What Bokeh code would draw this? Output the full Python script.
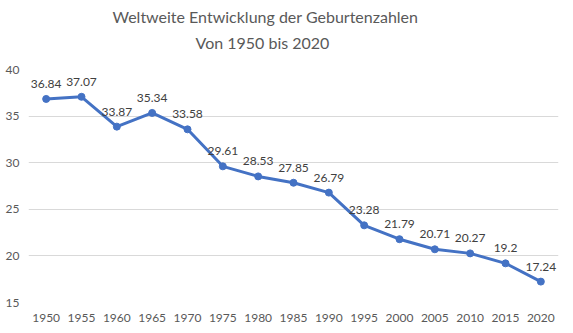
from bokeh.plotting import figure
from bokeh.models import ColumnDataSource, LabelSet, Title, FactorRange, Range1d, SingleIntervalTicker
from bokeh.core.properties import value
from bokeh.embed import file_html
from bokeh.resources import INLINE

years = ["1950", "1955", "1960", "1965", "1970", "1975", "1980", "1985",
         "1990", "1995", "2000", "2005", "2010", "2015", "2020"]
values = [36.84, 37.07, 33.87, 35.34, 33.58, 29.61, 28.53, 27.85,
          26.79, 23.28, 21.79, 20.71, 20.27, 19.2, 17.24]
labels = ["36.84", "37.07", "33.87", "35.34", "33.58", "29.61", "28.53", "27.85",
          "26.79", "23.28", "21.79", "20.71", "20.27", "19.2", "17.24"]
title1 = "Weltweite Entwicklung der Geburtenzahlen"
title2 = "Von 1950 bis 2020"

FONT = "Lato"
src = ColumnDataSource(dict(x=years, y=values, lab=labels))

p = figure(width=573, height=333, x_range=FactorRange(*years, range_padding=0),
           y_range=Range1d(15, 40), output_backend="svg", toolbar_location=None,
           min_border_left=28, min_border_right=15, min_border_bottom=31, min_border_top=69)
p.title = None
p.outline_line_color = None
p.background_fill_color = "white"

# invisible spacer closest to the frame
p.add_layout(Title(text=" ", text_font_size="1px", text_color="white", standoff=10), "above")
p.add_layout(Title(text=title2, align="left", offset=167, text_font=FONT, text_font_size="16px",
                   text_font_style="normal", text_color="#595959", standoff=10), "above")
p.add_layout(Title(text=title1, align="left", offset=84, text_font=FONT, text_font_size="16px",
                   text_font_style="normal", text_color="#595959", standoff=0), "above")

p.line("x", "y", source=src, line_color="#4472C4", line_width=3)
p.scatter("x", "y", source=src, size=7, fill_color="#4472C4", line_color="#4472C4")

ls = LabelSet(x="x", y="y", text="lab", source=src, text_align="center", text_baseline="middle",
              y_offset=15, text_font=value(FONT), text_font_size=value("12px"),
              text_color=value("#404040"))
p.add_layout(ls)

p.xgrid.grid_line_color = None
p.ygrid.grid_line_color = "#D9D9D9"
p.ygrid.grid_line_width = 1
p.yaxis.ticker = SingleIntervalTicker(interval=5)
for ax in (p.xaxis[0], p.yaxis[0]):
    ax.axis_line_color = None
    ax.major_tick_line_color = None
    ax.minor_tick_line_color = None
    ax.major_tick_out = 0
    ax.major_tick_in = 0
    ax.minor_tick_out = 0
    ax.major_label_text_font = FONT
    ax.major_label_text_font_size = "12px"
    ax.major_label_text_color = "#595959"
p.xaxis.major_label_standoff = 11
p.yaxis.major_label_standoff = 9

open("out.html", "w").write(file_html(p, INLINE))
